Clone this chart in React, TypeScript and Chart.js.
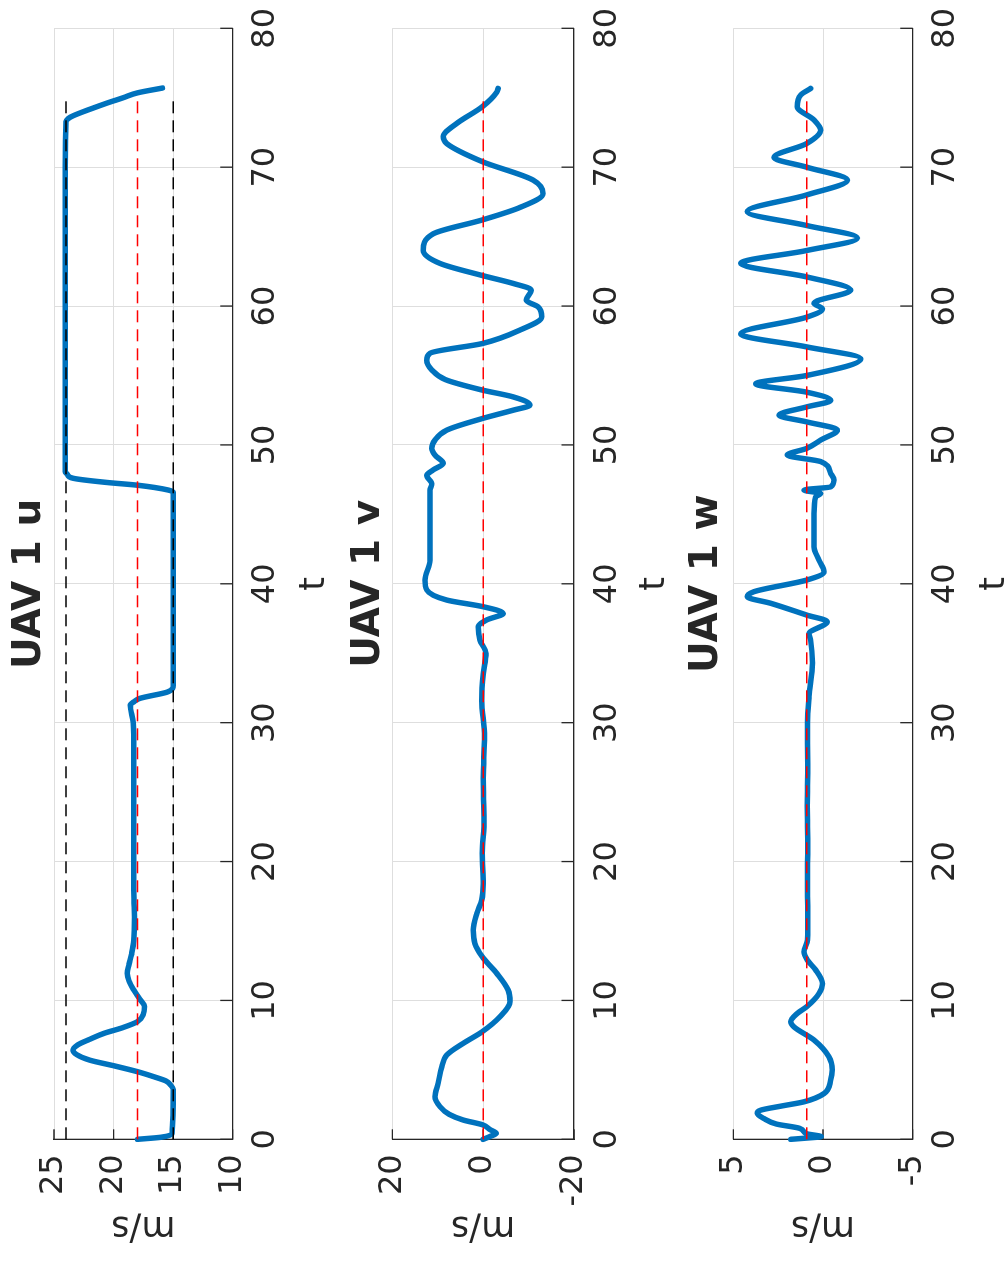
import React, { useEffect, useRef } from 'react';
import { Chart, registerables } from 'chart.js';
Chart.register(...registerables);

// ---------------- data ----------------
const T_TICKS = [0, 10, 20, 30, 40, 50, 60, 70, 80];
const REF_T = [0, 75.2];

const U_T = [0, 0.15, 0.4, 3.6, 3.9, 4.2, 4.5, 4.87, 5.3, 5.7, 6.1, 6.43, 6.8, 7.2, 7.63, 8.05, 8.47, 9.0, 9.55, 10.1, 10.75, 11.4, 11.95, 12.6, 13.3, 14.3, 16, 18, 20, 22, 24, 26, 28, 30, 31.27, 31.5, 31.75, 32.2, 32.47, 32.7, 35, 40, 45, 46.6, 46.75, 47.1, 47.3, 47.6, 47.9, 48.06, 50, 55, 60, 65, 70, 73.3, 73.5, 73.7, 74.2, 74.6, 75.0, 75.35, 75.7];
const U_VAL = [18.0, 16.0, 15.1, 15.0, 15.2, 15.6, 16.6, 18.0, 20.0, 22.0, 23.1, 23.4, 23.0, 22.0, 20.8, 19.2, 18.0, 17.5, 17.4, 17.8, 18.3, 18.7, 18.85, 18.7, 18.5, 18.3, 18.25, 18.3, 18.3, 18.3, 18.3, 18.3, 18.3, 18.35, 18.6, 18.3, 17.8, 15.5, 15.05, 15.0, 15.0, 15.0, 15.0, 15.0, 15.4, 18.0, 20.6, 23.4, 23.9, 24.05, 24.05, 24.05, 24.05, 24.05, 24.05, 24.0, 23.8, 23.4, 21.9, 20.6, 19.2, 18.0, 15.9];
const U_LIMITS = [24, 15];
const U_TARGET = 18;
const U_TICKS = [10, 15, 20, 25];

const V_T = [0, 0.2, 0.43, 0.7, 1.03, 1.39, 1.8, 2.35, 3.07, 4.03, 5.23, 6.07, 6.91, 7.75, 8.83, 9.91, 10.75, 11.95, 13.15, 14.1, 15.07, 16.27, 17.23, 18.4, 20.6, 23, 26, 29, 31.6, 33.5, 35.0, 35.95, 36.9, 37.4, 37.87, 38.35, 38.83, 39.55, 40.27, 41.7, 45.07, 46.75, 47.2, 47.8, 48.2, 48.67, 49.27, 49.75, 50.35, 51.07, 51.9, 52.5, 52.87, 53.46, 53.95, 54.7, 55.4, 56.1, 56.6, 57.3, 58.27, 59.22, 59.94, 60.42, 61.15, 61.63, 62.2, 63.07, 64.0, 65.2, 66.2, 67.1, 68.1, 69.07, 70.4, 71.7, 72.2, 73.15, 74.35, 75.4, 75.67];
const V_VAL = [0, -1.5, -2.9, -1.5, 0, 4.4, 7.5, 9.5, 10.6, 9.9, 9.1, 8.0, 4.4, 0.2, -3.7, -5.9, -5.5, -3.0, 0.2, 1.8, 2.2, 1.4, 0.3, 0, 0.2, -0.2, 0, -0.3, 0.3, 0, -0.6, 0.7, 1.1, -0.8, -4.4, 0, 8.0, 12.4, 12.8, 11.7, 11.7, 11.7, 11.3, 12.4, 11.0, 8.8, 10.6, 11.3, 10.6, 8.0, 0.2, -6.6, -10.3, -6.6, 0.2, 8.3, 11.3, 12.4, 11.7, 0.2, -8.1, -12.9, -12.1, -9.5, -10.6, -6.6, 0.2, 9.5, 13.2, 11.0, 0.2, -8.1, -13.2, -11.0, 0.2, 8.0, 8.8, 5.8, 0.2, -3.0, -3.3];
const V_TARGET = 0;
const V_TICKS = [-20, 0, 20];

const W_T = [0, 0.1, 0.19, 0.4, 0.79, 1.1, 1.5, 1.87, 2.1, 2.4, 2.7, 3.3, 4.27, 5.0, 5.95, 7.15, 8.1, 8.47, 9.07, 9.55, 10.5, 11.2, 12.2, 12.9, 13.5, 14.35, 16.3, 18.7, 21, 24, 27, 30, 31.9, 34.3, 35.95, 36.4, 37.27, 37.75, 38.6, 39.07, 39.43, 40.27, 40.87, 41.7, 42.66, 45.07, 46.26, 46.5, 46.75, 46.98, 47.47, 47.95, 48.8, 49.27, 49.75, 50.35, 51.07, 51.66, 52.14, 52.74, 53.2, 53.8, 54.4, 55.0, 56.2, 57.06, 58.0, 59.2, 59.8, 60.2, 61.15, 62.1, 63.07, 64.0, 64.9, 65.8, 66.8, 68.0, 69.07, 70.0, 70.7, 71.7, 72.66, 73.4, 74.35, 75.2, 75.67];
const W_VAL = [1.8, 0.8, 0.1, 0.9, 1.3, 2.6, 3.3, 3.66, 3.47, 2.3, 1.06, -0.06, -0.43, -0.52, -0.33, 0.5, 1.62, 1.8, 1.43, 0.91, 0.22, 0.03, 0.41, 0.87, 1.06, 0.87, 0.85, 0.87, 0.85, 0.88, 0.85, 0.87, 0.78, 0.59, 0.69, 0.78, -0.24, 0.91, 2.92, 4.22, 3.85, 0.91, -0.06, 0.22, 0.5, 0.5, 0.41, 0.13, 1.06, -0.43, -0.61, -0.43, 0.13, 1.99, 0.91, 0.13, -0.8, 0.91, 2.45, 0.91, -0.43, 0.91, 3.75, 0.91, -2.1, 0.91, 4.59, 0.91, 0.03, 0.5, -1.54, 0.91, 4.59, 0.91, -1.92, 0.91, 4.22, 0.91, -1.36, 0.91, 2.73, 0.91, 0.13, 0.5, 1.43, 1.24, 0.69];
const W_TARGET = 0.9;
const W_TICKS = [-5, 0, 5];

// ---------------- styling / layout ----------------
const FIG_W = 1266;
const FIG_H = 1005;
const PLOT_LEFT = 126.7;
const PLOT_RIGHT = 1237.7;
const BLUE = '#0072BD';
const INK = '#262626';
const GRID = '#dedede';
const TOP_SPACE = 60;
const TITLE_SIZE = 39;

type Ref = { y: number; color: string };
type Spec = {
  title: string; t: number[]; v: number[]; ticks: number[]; refs: Ref[];
  plotTop: number; plotBottom: number; titleY: number; tLabelY: number;
};

const SPECS: Spec[] = [
  { title: 'UAV 1 u', t: U_T, v: U_VAL, ticks: U_TICKS,
    refs: [{ y: U_LIMITS[0], color: '#000000' }, { y: U_LIMITS[1], color: '#000000' }, { y: U_TARGET, color: '#ff0000' }],
    plotTop: 54, plotBottom: 232.7, titleY: 30, tLabelY: 315 },
  { title: 'UAV 1 v', t: V_T, v: V_VAL, ticks: V_TICKS,
    refs: [{ y: V_TARGET, color: '#ff0000' }],
    plotTop: 392.3, plotBottom: 574, titleY: 369, tLabelY: 655 },
  { title: 'UAV 1 w', t: W_T, v: W_VAL, ticks: W_TICKS,
    refs: [{ y: W_TARGET, color: '#ff0000' }],
    plotTop: 733.3, plotBottom: 912.7, titleY: 707, tLabelY: 995 },
];

Chart.defaults.font.family = "'DejaVu Sans', sans-serif";
Chart.defaults.color = INK;

const inwardTicks = {
  id: 'inwardTicks',
  beforeDatasetsDraw(chart: any) {
    const { ctx, chartArea, scales } = chart;
    const { left, bottom } = chartArea;
    ctx.save();
    ctx.strokeStyle = INK;
    ctx.lineWidth = 1.3;
    ctx.beginPath();
    scales.x.ticks.forEach((tk: any) => {
      const px = scales.x.getPixelForValue(tk.value);
      ctx.moveTo(px, bottom);
      ctx.lineTo(px, bottom - 12.5);
    });
    scales.y.ticks.forEach((tk: any) => {
      const py = scales.y.getPixelForValue(tk.value);
      ctx.moveTo(left, py);
      ctx.lineTo(left + 10, py);
    });
    ctx.stroke();
    ctx.restore();
  },
};

function geom(s: Spec) {
  const canvasTop = Math.floor(s.plotTop - TOP_SPACE);
  const canvasH = Math.ceil(s.tLabelY + 30 - canvasTop);
  return {
    canvasTop,
    canvasH,
    plotTopL: s.plotTop - canvasTop,
    plotBottomL: s.plotBottom - canvasTop,
    titleL: s.titleY - canvasTop,
    tLabelL: s.tLabelY - canvasTop,
  };
}

function Panel({ spec }: { spec: Spec }) {
  const ref = useRef<HTMLCanvasElement | null>(null);
  const g = geom(spec);
  useEffect(() => {
    if (!ref.current) return;
    const titleLH = TITLE_SIZE * 1.2;
    const labelLH = 35 * 1.2;
    const datasets: any[] = spec.refs.map((r) => ({
      data: REF_T.map((t) => ({ x: t, y: r.y })),
      borderColor: r.color,
      borderWidth: 1.5,
      borderDash: [12, 7],
      pointRadius: 0,
      tension: 0,
      order: 0,
      clip: false,
    }));
    datasets.push({
      data: spec.t.map((t, i) => ({ x: t, y: spec.v[i] })),
      borderColor: BLUE,
      borderWidth: 5.5,
      pointRadius: 0,
      cubicInterpolationMode: 'monotone',
      borderJoinStyle: 'round',
      borderCapStyle: 'round',
      order: 1,
      clip: false,
    });
    const yMin = spec.ticks[0];
    const yMax = spec.ticks[spec.ticks.length - 1];
    const chart = new Chart(ref.current, {
      type: 'line',
      data: { datasets },
      options: {
        responsive: false,
        animation: false,
        devicePixelRatio: 1,
        layout: { autoPadding: false, padding: { left: 0, right: FIG_W - PLOT_RIGHT, top: 0, bottom: 0 } },
        plugins: {
          legend: { display: false },
          tooltip: { enabled: false },
          title: {
            display: true,
            text: spec.title,
            fullSize: false,
            color: INK,
            font: { size: TITLE_SIZE, weight: 'bold', lineHeight: 1.2 },
            padding: { top: g.titleL - titleLH / 2, bottom: g.plotTopL - g.titleL - titleLH / 2 },
          },
        },
        scales: {
          x: {
            type: 'linear',
            min: 0,
            max: 80,
            afterBuildTicks: (s: any) => { s.ticks = T_TICKS.map((v) => ({ value: v })); },
            afterFit: (s: any) => { s.height = g.canvasH - g.plotBottomL; s.paddingLeft = 0; s.paddingRight = 0; },
            grid: { color: GRID, lineWidth: 1, drawTicks: false },
            border: { color: INK, width: 1.3 },
            ticks: { color: INK, font: { size: 32 }, padding: 14, maxRotation: 0, autoSkip: false },
            title: { display: true, text: 't', color: INK, font: { size: 35, lineHeight: 1.2 }, padding: { top: 0, bottom: g.canvasH - g.tLabelL - labelLH / 2 } },
          },
          y: {
            type: 'linear',
            min: yMin,
            max: yMax,
            afterBuildTicks: (s: any) => { s.ticks = spec.ticks.map((v) => ({ value: v })); },
            afterFit: (s: any) => { s.width = PLOT_LEFT; s.paddingTop = 0; s.paddingBottom = 0; },
            grid: { color: GRID, lineWidth: 1, drawTicks: false },
            border: { color: INK, width: 1.3 },
            ticks: { color: INK, font: { size: 32 }, padding: 15, autoSkip: false },
            title: { display: true, text: 'm/s', color: INK, font: { size: 35, lineHeight: 1.2 }, padding: { top: 19, bottom: 0 } },
          },
        },
      } as any,
      plugins: [inwardTicks],
    });
    return () => chart.destroy();
  }, []);
  return (
    <div style={{ position: 'absolute', left: 0, top: g.canvasTop, width: FIG_W, height: g.canvasH }}>
      <canvas ref={ref} width={FIG_W} height={g.canvasH} style={{ display: 'block' }} />
    </div>
  );
}

export default function App() {
  return (
    <div
      style={{
        position: 'fixed',
        left: 0,
        top: 0,
        width: FIG_W,
        height: FIG_H,
        background: '#ffffff',
        transformOrigin: '0 0',
        transform: `translateY(${FIG_W}px) rotate(-90deg)`,
      }}
    >
      {SPECS.map((s) => (
        <Panel key={s.title} spec={s} />
      ))}
    </div>
  );
}
